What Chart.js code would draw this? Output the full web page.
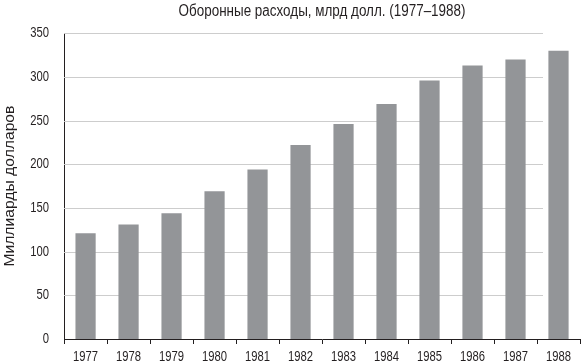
<!DOCTYPE html>
<html>
<head>
<meta charset="utf-8">
<script src="https://cdn.jsdelivr.net/npm/chart.js@4/dist/chart.umd.min.js"></script>
<style>
    html, body { margin: 0; padding: 0; background: #fff; }
    #wrap { width: 581px; height: 363px; }
</style>
</head>
<body>
<div id="wrap"><canvas id="spendChart"></canvas></div>
<script>
// Data
const years = ["1977", "1978", "1979", "1980", "1981", "1982", "1983", "1984", "1985", "1986", "1987", "1988"];
const spending = [121, 131, 144, 169, 194, 222, 246, 269, 296, 313, 320, 330];
const yTicks = [0, 50, 100, 150, 200, 250, 300, 350];

const FONT = "'Liberation Sans', Arial, sans-serif";
const INK = "#231f20";

// The original uses a condensed face; squeeze per font size (ticks / title / axis title)
const squeezeBySize = { 15: 0.75, 16: 0.84, 14: 1.12 };

const ctx = document.getElementById("spendChart").getContext("2d");

function squeezeFor(c) {
    const m = /(\d+(?:\.\d+)?)px/.exec(c.font);
    return (m && squeezeBySize[Math.round(parseFloat(m[1]))]) || 1;
}

const rawFill = ctx.fillText.bind(ctx);
const rawMeasure = ctx.measureText.bind(ctx);
ctx.fillText = function (text, x, y) {
    const k = squeezeFor(this);
    this.save();
    this.translate(x, y);
    this.scale(k, 1);
    rawFill(text, 0, 0);
    this.restore();
};
ctx.measureText = function (text) {
    const k = squeezeFor(this);
    const m = rawMeasure(text);
    return {
        width: m.width * k,
        actualBoundingBoxAscent: m.actualBoundingBoxAscent,
        actualBoundingBoxDescent: m.actualBoundingBoxDescent,
        actualBoundingBoxLeft: m.actualBoundingBoxLeft * k,
        actualBoundingBoxRight: m.actualBoundingBoxRight * k,
    };
};

// Gridlines stop short of the last bar, like the original
const gridPlugin = {
    id: "shortGrid",
    beforeDatasetsDraw(chart) {
        const { ctx, chartArea, scales } = chart;
        const x = scales.x;
        const y = scales.y;
        const endX = x.getPixelForValue(years.length - 1) - x.width / years.length / 2 + 6;
        ctx.save();
        ctx.strokeStyle = "#cdcdcd";
        ctx.lineWidth = 1;
        yTicks.forEach((v) => {
            if (v === 0) return;
            const py = Math.round(y.getPixelForValue(v)) + 0.5;
            ctx.beginPath();
            ctx.moveTo(chartArea.left, py);
            ctx.lineTo(endX, py);
            ctx.stroke();
        });
        ctx.restore();
    },
};

new Chart(ctx, {
    type: "bar",
    data: {
        labels: years,
        datasets: [
            {
                label: "Оборонные расходы",
                data: spending,
                backgroundColor: "#939598",
                borderWidth: 0,
                barPercentage: 0.47,
                categoryPercentage: 1,
            },
        ],
    },
    options: {
        responsive: true,
        maintainAspectRatio: false,
        animation: false,
        layout: {
            padding: { left: 0, right: 1, top: 0, bottom: -9 },
        },
        plugins: {
            legend: { display: false },
            tooltip: { enabled: false },
            title: {
                display: true,
                fullSize: false,
                text: "Оборонные расходы, млрд долл. (1977–1988)",
                color: INK,
                font: { family: FONT, size: 16, weight: "normal" },
                padding: { top: 2, bottom: 12 },
            },
        },
        scales: {
            x: {
                grid: {
                    display: true,
                    drawOnChartArea: false,
                    drawTicks: true,
                    tickLength: 5,
                    color: INK,
                    offset: true,
                },
                border: { display: true, color: INK, width: 1 },
                ticks: {
                    color: INK,
                    font: { family: FONT, size: 15, lineHeight: 1 },
                    padding: 5,
                    maxRotation: 0,
                    autoSkip: false,
                },
            },
            y: {
                min: 0,
                max: 350,
                afterBuildTicks: (axis) => {
                    axis.ticks = yTicks.map((v) => ({ value: v }));
                },
                grid: { display: false, drawTicks: false, tickLength: 0 },
                border: { display: true, color: INK, width: 1 },
                ticks: {
                    color: INK,
                    font: { family: FONT, size: 15 },
                    padding: 15,
                },
                title: {
                    display: true,
                    text: "Миллиарды долларов",
                    color: INK,
                    font: { family: FONT, size: 14, lineHeight: 1.2 },
                    padding: { top: 2, bottom: -3.5 },
                },
            },
        },
    },
    plugins: [gridPlugin],
});
</script>
</body>
</html>
